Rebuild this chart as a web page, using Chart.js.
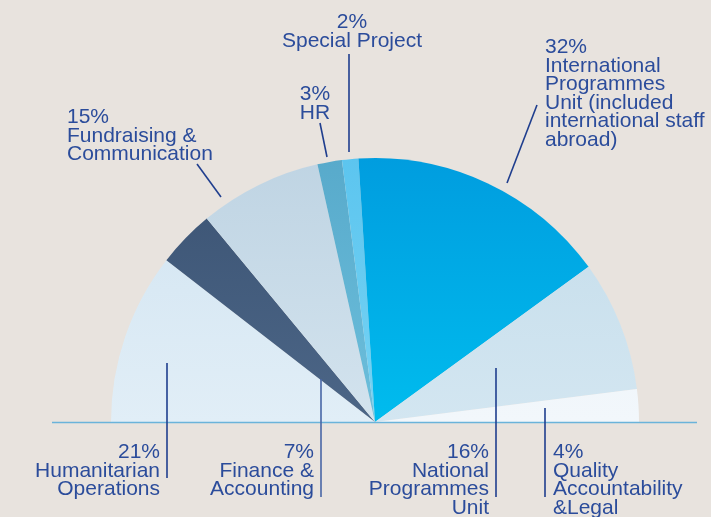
<!DOCTYPE html>
<html>
<head>
<meta charset="utf-8">
<script src="https://cdn.jsdelivr.net/npm/chart.js@4.4.1/dist/chart.umd.min.js"></script>
<style>
  html, body { margin: 0; padding: 0; background: #e8e3de; }
  #wrap { width: 711px; height: 517px; position: relative; }
</style>
</head>
<body>
<div id="wrap"><canvas id="halfPie"></canvas></div>
<script>
// departments, left to right across the half circle
var departments = [
  'Humanitarian Operations',
  'Finance & Accounting',
  'Fundraising & Communication',
  'HR',
  'Special Project',
  'International Programmes Unit',
  'National Programmes Unit',
  'Quality Accountability & Legal'
]
var shares = [21, 7, 15, 3, 2, 32, 16, 4]

// label text, one line per entry (first line is the share)
var labelLines = [
  ['Humanitarian', 'Operations'],
  ['Finance &', 'Accounting'],
  ['Fundraising &', 'Communication'],
  ['HR'],
  ['Special Project'],
  ['International', 'Programmes', 'Unit (included', 'international staff', 'abroad)'],
  ['National', 'Programmes', 'Unit'],
  ['Quality', 'Accountability', '&Legal']
]

// slice colours, top and bottom of the vertical gradient
var topColors    = ['#d1e4f1', '#3b5373', '#bfd4e3', '#58aacb', '#5cc5ef', '#009ddf', '#c3dcea', '#e9f1f8']
var bottomColors = ['#e1eef7', '#4c6687', '#d3e3ee', '#6cbfdc', '#76d3f4', '#00bcee', '#d3e6f1', '#f2f7fb']

// where each label sits and where its leader line goes
var labelLayout = [
  { x: 160, y: 458, align: 'right', line: [167, 363, 167, 478] },
  { x: 314, y: 458, align: 'right', line: [321, 379, 321, 497], lineColor: '#4866a6' },
  { x: 67,  y: 123, align: 'left',  line: [197, 164, 221, 197] },
  { x: 315, y: 100, align: 'center', line: [320, 123, 327, 157] },
  { x: 352, y: 28,  align: 'center', line: [349, 54, 349, 152] },
  { x: 545, y: 53,  align: 'left',  line: [537, 105, 507, 183] },
  { x: 489, y: 458, align: 'right', line: [496, 368, 496, 497] },
  { x: 553, y: 458, align: 'left',  line: [545, 408, 545, 497] }
]

var textColor = '#2b4c9b'
var lineColor = '#1f3e8e'

function sliceFill(ctx) {
  var chart = ctx.chart
  var area = chart.chartArea
  var i = ctx.dataIndex
  if (!area) return topColors[i]
  var g = chart.ctx.createLinearGradient(0, area.top, 0, area.bottom)
  g.addColorStop(0, topColors[i])
  g.addColorStop(1, bottomColors[i])
  return g
}

var labelsPlugin = {
  id: 'labels',
  afterDraw: function (chart) {
    var c = chart.ctx
    var arc = chart.getDatasetMeta(0).data[0]
    c.save()
    // base line under the half circle
    c.strokeStyle = '#6ab3da'
    c.lineWidth = 1.5
    c.beginPath()
    c.moveTo(52, arc.y + 0.5)
    c.lineTo(697, arc.y + 0.5)
    c.stroke()

    c.font = '21px "Liberation Sans", Arial, sans-serif'
    c.textBaseline = 'alphabetic'
    labelLayout.forEach(function (l, i) {
      c.strokeStyle = l.lineColor || lineColor
      c.lineWidth = 1.6
      c.beginPath()
      c.moveTo(l.line[0], l.line[1])
      c.lineTo(l.line[2], l.line[3])
      c.stroke()

      c.fillStyle = textColor
      c.textAlign = l.align
      var lines = [shares[i] + '%'].concat(labelLines[i])
      lines.forEach(function (t, k) {
        c.fillText(t, l.x, l.y + k * 18.6)
      })
    })
    c.restore()
  }
}

var ctx = document.getElementById('halfPie').getContext('2d')
new Chart(ctx, {
  type: 'doughnut',
  data: {
    labels: departments,
    datasets: [{
      data: shares,
      backgroundColor: sliceFill,
      borderWidth: 0,
      hoverOffset: 0
    }]
  },
  options: {
    responsive: true,
    maintainAspectRatio: false,
    animation: false,
    rotation: -90,
    circumference: 180,
    cutout: 0,
    layout: { padding: { left: 111, right: 72, top: 158, bottom: 95 } },
    plugins: {
      legend: { display: false },
      tooltip: { enabled: false }
    }
  },
  plugins: [labelsPlugin]
})
</script>
</body>
</html>
